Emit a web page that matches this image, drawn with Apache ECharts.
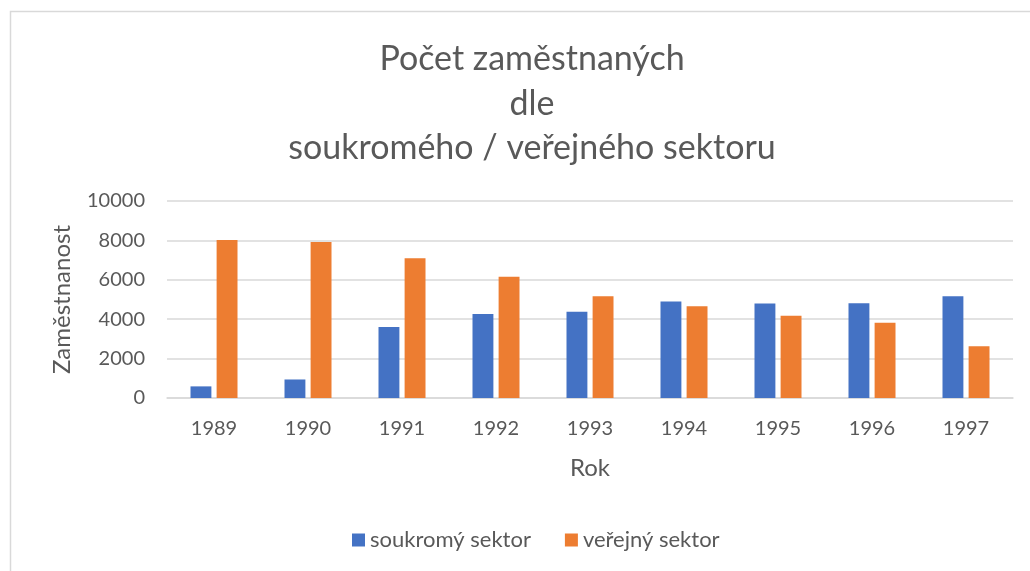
<!DOCTYPE html>
<html>
<head>
<meta charset="utf-8">
<script src="https://cdn.jsdelivr.net/npm/echarts@6/dist/echarts.min.js"></script>
<style>
html, body { margin: 0; padding: 0; background: #fff; }
#chart { width: 1030px; height: 571px; }
</style>
</head>
<body>
<div id="chart"></div>
<script>
var years = ['1989', '1990', '1991', '1992', '1993', '1994', '1995', '1996', '1997'];
var soukromy = [590, 940, 3610, 4270, 4380, 4900, 4800, 4810, 5170];
var verejny = [8020, 7920, 7100, 6150, 5170, 4660, 4170, 3820, 2630];
var titleLines = ['Počet zaměstnaných', 'dle', 'soukromého / veřejného sektoru'];

var textColor = '#595959';
var fontName = 'Lato, "Open Sans", sans-serif';

var myChart = echarts.init(document.getElementById('chart'));
var option = {
    backgroundColor: '#fff',
    textStyle: { fontFamily: fontName },
    graphic: [
        {
            type: 'rect',
            shape: { x: 10.5, y: 11.5, width: 1030, height: 600 },
            style: { fill: 'none', stroke: '#d9d9d9', lineWidth: 1.5 },
            silent: true
        }
    ],
    title: {
        text: titleLines.join('\n'),
        left: 527,
        textAlign: 'center',
        top: 32,
        textStyle: {
            fontFamily: fontName,
            fontSize: 34,
            fontWeight: 'normal',
            color: textColor,
            lineHeight: 44.5
        }
    },
    legend: {
        bottom: 15,
        left: 347,
        itemWidth: 13,
        itemHeight: 13,
        itemGap: 34,
        icon: 'rect',
        textStyle: { fontSize: 22, color: textColor, fontFamily: fontName }
    },
    grid: {
        left: 167,
        right: 17,
        top: 201,
        bottom: 173
    },
    xAxis: {
        type: 'category',
        data: years,
        name: 'Rok',
        nameLocation: 'middle',
        nameGap: 58,
        nameTextStyle: { fontSize: 24, color: textColor },
        axisTick: { show: false },
        axisLine: { lineStyle: { color: '#d9d9d9', width: 1.5 } },
        axisLabel: { fontSize: 20, color: textColor, margin: 21 }
    },
    yAxis: {
        type: 'value',
        min: 0,
        max: 10000,
        interval: 2000,
        name: 'Zaměstnanost',
        nameLocation: 'middle',
        nameGap: 93,
        nameRotate: 90,
        nameTextStyle: { fontSize: 24, color: textColor },
        axisLine: { show: false },
        axisTick: { show: false },
        axisLabel: {
            fontSize: 20,
            color: textColor,
            margin: 22,
            formatter: function (v) { return String(v); }
        },
        splitLine: { lineStyle: { color: '#d9d9d9', width: 1.5 } }
    },
    series: [
        {
            name: 'soukromý sektor',
            type: 'bar',
            data: soukromy,
            barGap: '25%',
            barCategoryGap: '50%',
            itemStyle: { color: '#4472c4' }
        },
        {
            name: 'veřejný sektor',
            type: 'bar',
            data: verejny,
            barGap: '25%',
            barCategoryGap: '50%',
            itemStyle: { color: '#ed7d31' }
        }
    ]
};
myChart.setOption(option);
</script>
</body>
</html>
